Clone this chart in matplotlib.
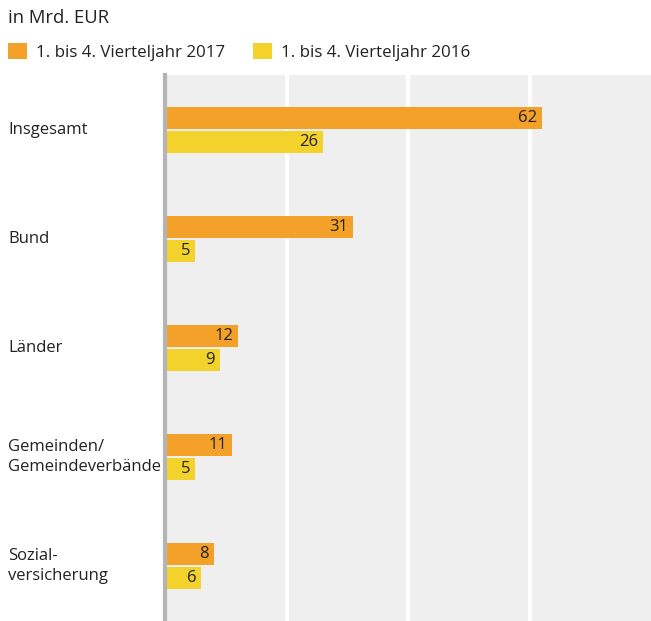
import numpy as np
import matplotlib.pyplot as plt

# data
categories = ['Insgesamt', 'Bund', 'Länder', 'Gemeinden/\nGemeindeverbände', 'Sozial-\nversicherung']
values_2017 = [62, 31, 12, 11, 8]
values_2016 = [26, 5, 9, 5, 6]
series_names = ['1. bis 4. Vierteljahr 2017', '1. bis 4. Vierteljahr 2016']

orange = '#f4a12a'
yellow = '#f3d22c'
text_col = '#222222'

plt.rcParams['font.family'] = ['Open Sans', 'DejaVu Sans']

fig = plt.figure(figsize=(6.51, 6.21), dpi=100)
ax = fig.add_axes([165/651, 0, 486/651, 546/621])
ax.set_facecolor('#efefef')

y = np.arange(len(categories))
h = 0.2
off = 0.11
b1 = ax.barh(y - off, values_2017, height=h, color=orange, label=series_names[0], zorder=3)
b2 = ax.barh(y + off, values_2016, height=h, color=yellow, label=series_names[1], zorder=3)

for bars in (b1, b2):
    for rect in bars:
        w = rect.get_width()
        ax.annotate(f'{w:.0f}', (w, rect.get_y() + rect.get_height() / 2),
                    xytext=(-3.5, 0), textcoords='offset points',
                    ha='right', va='center', fontsize=12, color=text_col, zorder=4)

ax.set_xlim(0, 80)
ax.set_ylim(4.5, -0.5)
ax.set_xticks([20, 40, 60])
ax.grid(axis='x', color='white', linewidth=3, zorder=1)
ax.tick_params(length=0, labelbottom=False, labelleft=False)
for s in ['top', 'right', 'bottom']:
    ax.spines[s].set_visible(False)
ax.spines['left'].set_color('#b4b4b4')
ax.spines['left'].set_linewidth(3)
ax.spines['left'].set_zorder(5)

# category labels at left edge of the figure
for yi, cat in zip(y, categories):
    ax.annotate(cat, (0, yi), xycoords=('figure fraction', 'data'),
                xytext=(8 * 0.72, 0), textcoords='offset points',
                ha='left', va='center', fontsize=12, color=text_col,
                linespacing=1.35, annotation_clip=False)

fig.text(8/651, 1 - 18/621, 'in Mrd. EUR', ha='left', va='center',
         fontsize=13.3, color=text_col)

fig.legend(handles=[b1, b2], labels=series_names, loc='center left',
           bbox_to_anchor=(8/651, 1 - 52/621), ncol=2, frameon=False,
           fontsize=12.2, handlelength=1.12, handleheight=1.12,
           handletextpad=0.55, columnspacing=1.6, borderaxespad=0,
           borderpad=0, labelcolor=text_col)

fig.savefig('out.png', dpi=100)
